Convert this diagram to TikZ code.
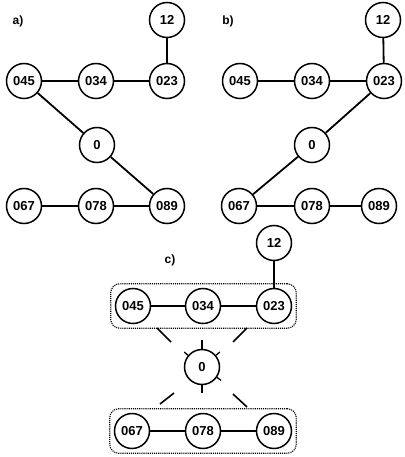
\documentclass[tikz,border=0pt]{standalone}
\usepackage{fontspec}
\setmainfont{Liberation Sans}
\usetikzlibrary{fit}
\begin{document}
\begin{tikzpicture}[x=1pt,y=-1pt,
  v/.style={circle,draw,line width=1.5pt,minimum size=35pt,inner sep=0pt,font=\fontsize{13}{15}\selectfont\bfseries},
  e/.style={line width=1.8pt},
  lab/.style={font=\fontsize{12}{14}\selectfont\bfseries},
  grp/.style={draw,densely dotted,line width=1.1pt,rounded corners=9pt,inner sep=4pt},
  seg/.style={line width=1.6pt}]
\useasboundingbox (0,0) rectangle (404,457);
% panel a
\node[lab] (la) at (18,21) {a)};
\node[v] (a12) at (167,20) {12};
\node[v] (a045) at (24,81) {045};
\node[v] (a034) at (96,81) {034};
\node[v] (a023) at (167,81) {023};
\node[v] (a0) at (97,145) {0};
\node[v] (a067) at (24,206) {067};
\node[v] (a078) at (96,206) {078};
\node[v] (a089) at (167,206) {089};
\draw[e] (a12)--(a023);
\draw[e] (a045)--(a034);
\draw[e] (a034)--(a023);
\draw[e] (a045)--(a0);
\draw[e] (a0)--(a089);
\draw[e] (a067)--(a078);
\draw[e] (a078)--(a089);
% panel b
\node[lab] (lb) at (228,21) {b)};
\node[v] (b12) at (383,20) {12};
\node[v] (b045) at (240,81) {045};
\node[v] (b034) at (312,81) {034};
\node[v] (b023) at (384,81) {023};
\node[v] (b0) at (312,145) {0};
\node[v] (b067) at (239,206) {067};
\node[v] (b078) at (312,206) {078};
\node[v] (b089) at (379,206) {089};
\draw[e] (b12)--(b023);
\draw[e] (b045)--(b034);
\draw[e] (b034)--(b023);
\draw[e] (b023)--(b0);
\draw[e] (b0)--(b067);
\draw[e] (b067)--(b078);
\draw[e] (b078)--(b089);
% panel c
\node[lab] (lc) at (170,260) {c)};
\node[v] (c12) at (274,243) {12};
\node[v] (c045) at (133,306) {045};
\node[v] (c034) at (203,306) {034};
\node[v] (c023) at (274,306) {023};
\node[v] (c0) at (202,367) {0};
\node[v] (c067) at (132,431) {067};
\node[v] (c078) at (203,431) {078};
\node[v] (c089) at (274,431) {089};
\draw[e] (c12)--(c023);
\draw[e] (c045)--(c034);
\draw[e] (c034)--(c023);
\draw[e] (c067)--(c078);
\draw[e] (c078)--(c089);
\node[grp,fit=(c045)(c023)] (gtop) {};
\node[grp,fit=(c067)(c089)] (gbot) {};
% ticks on 0
\draw[seg] (c0.90) -- ++(90:9pt);
\draw[seg] (c0.270) -- ++(270:8pt);
\draw[line width=1.3pt] (c0.140) -- ++(140:5pt);
\draw[line width=1.3pt] (c0.40) -- ++(40:5pt);
\draw[line width=1.3pt] (c0.-35) -- ++(-35:5pt);
% dashed segments toward 0
\coordinate (d1a) at (157,328); \coordinate (d1b) at (171,342);
\coordinate (d2a) at (247,328); \coordinate (d2b) at (233,342);
\coordinate (d3a) at (174,393); \coordinate (d3b) at (160,404);
\coordinate (d4a) at (233,394); \coordinate (d4b) at (247,407);
\draw[seg] (d1a)--(d1b);
\draw[seg] (d2a)--(d2b);
\draw[seg] (d3a)--(d3b);
\draw[seg] (d4a)--(d4b);
\end{tikzpicture}
\end{document}
